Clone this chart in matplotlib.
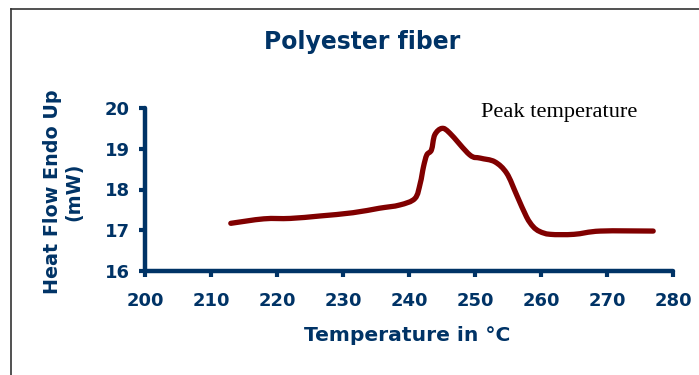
import matplotlib
matplotlib.use("Agg")
import matplotlib.pyplot as plt
from matplotlib.lines import Line2D
from matplotlib.path import Path
from matplotlib.patches import PathPatch

# DSC scan of a polyester fiber
temperature = [213, 218, 222, 226.5, 231.5, 235.5, 238.6, 240.9, 241.7, 242.2, 242.7, 243.4,
               243.9, 245.0, 246.2, 249.2, 250.8, 253.0, 254.8, 256.3, 257.8, 258.8, 259.8,
               261.4, 265, 269, 277]
heat_flow = [17.17, 17.28, 17.29, 17.35, 17.43, 17.54, 17.62, 17.78, 18.15, 18.56, 18.85, 18.97,
             19.34, 19.50, 19.38, 18.85, 18.77, 18.68, 18.40, 17.87, 17.33, 17.09, 16.97,
             16.90, 16.90, 16.98, 16.98]
x_ticks = [200, 210, 220, 230, 240, 250, 260, 270, 280]
y_ticks = [16, 17, 18, 19, 20]

navy = "#003366"
curve = "#800000"
sans = dict(family="DejaVu Sans", fontweight="bold")


def smooth_path(xs, ys, tension=1 / 6):
    """Catmull-Rom style cubic Bezier path through the given points."""
    verts = [(xs[0], ys[0])]
    codes = [Path.MOVETO]
    n = len(xs)
    for i in range(n - 1):
        x0, y0 = (xs[i - 1], ys[i - 1]) if i > 0 else (xs[i], ys[i])
        x1, y1 = xs[i], ys[i]
        x2, y2 = xs[i + 1], ys[i + 1]
        x3, y3 = (xs[i + 2], ys[i + 2]) if i + 2 < n else (x2, y2)
        c1 = (x1 + (x2 - x0) * tension, y1 + (y2 - y0) * tension)
        c2 = (x2 - (x3 - x1) * tension, y2 - (y3 - y1) * tension)
        verts += [c1, c2, (x2, y2)]
        codes += [Path.CURVE4] * 3
    return Path(verts, codes)


fig = plt.figure(figsize=(6.99, 3.75), dpi=100)
fig.patch.set_facecolor("white")

# outer frame (left and top edges)
fig.add_artist(Line2D([10.5 / 699, 10.5 / 699], [0, 1 - 9 / 375], color="#333333", lw=1.2,
                      transform=fig.transFigure))
fig.add_artist(Line2D([10.5 / 699, 1.0], [1 - 9 / 375, 1 - 9 / 375], color="#333333", lw=1.2,
                      transform=fig.transFigure))

ax = fig.add_axes([145 / 699, 1 - 271 / 375, (673 - 145) / 699, (271 - 108) / 375])
ax.add_patch(PathPatch(smooth_path(temperature, heat_flow), fill=False, edgecolor=curve,
                       lw=3.8, capstyle="round", joinstyle="round"))

ax.set_xlim(200, 280)
ax.set_ylim(16, 20)
ax.set_xticks(x_ticks)
ax.set_yticks(y_ticks)

for side in ("top", "right"):
    ax.spines[side].set_visible(False)
for side in ("left", "bottom"):
    ax.spines[side].set_color(navy)
    ax.spines[side].set_linewidth(3.2)
    ax.spines[side].set_capstyle("round")

ax.tick_params(axis="both", direction="out", length=4, width=3, color=navy,
               labelcolor=navy, labelsize=13)
ax.tick_params(axis="x", pad=11)
ax.tick_params(axis="y", pad=7)
for lbl in ax.get_xticklabels() + ax.get_yticklabels():
    lbl.set(**sans)

xl = ax.set_xlabel("Temperature in °C", fontsize=15, color=navy, **sans)
yl = ax.set_ylabel("Heat Flow Endo Up\n(mW)", fontsize=15, color=navy,
                   linespacing=1.1, **sans)
ax.xaxis.set_label_coords(0.5 + (407 - 409) / 528, (271 - 326) / 163)
ax.yaxis.set_label_coords((83 - 145) / 528, 0.488)

title = fig.text(362 / 699, 1 - 42 / 375, "Polyester fiber", ha="center", va="center",
                 fontsize=18, color=navy, **sans)

peak = fig.text(559 / 699, 1 - 112 / 375, "Peak temperature", ha="center", va="center",
                fontsize=14, family="Liberation Serif", color="black")

# scale the text sizes to their intended widths in pixels
fig.canvas.draw()
renderer = fig.canvas.get_renderer()
for txt, target, horizontal in ((title, 197, True), (xl, 207, True), (yl, 205, False),
                                (peak, 157, True)):
    bb = txt.get_window_extent(renderer)
    size = bb.width if horizontal else bb.height
    if txt is yl:
        # measure only the longer line
        probe = fig.text(0, 0, "Heat Flow Endo Up", fontsize=txt.get_fontsize(), **sans)
        size = probe.get_window_extent(renderer).width
        probe.remove()
    txt.set_fontsize(txt.get_fontsize() * target / size)

fig.savefig("out.png", dpi=100, facecolor="white")
